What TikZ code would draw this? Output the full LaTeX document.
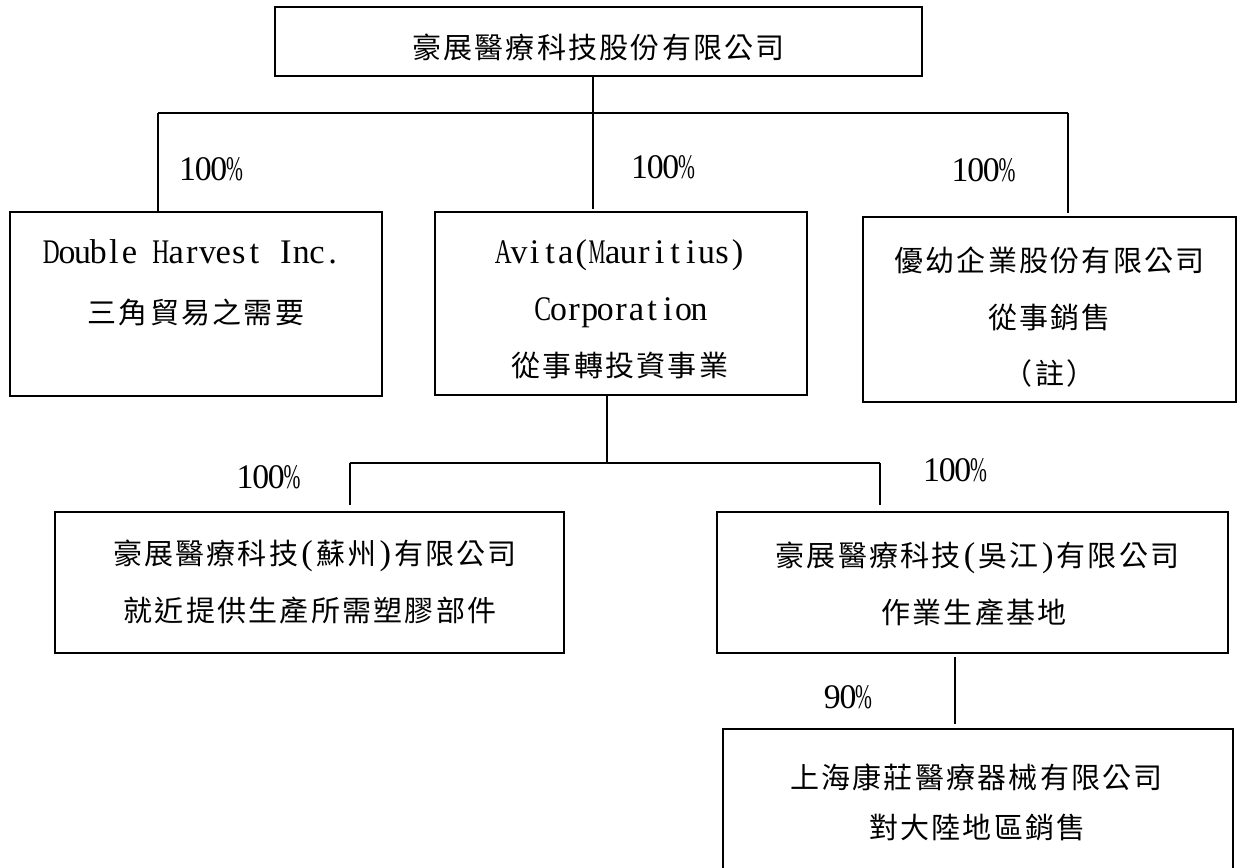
\documentclass[tikz,border=0pt]{standalone}
\usepackage{fontspec}
\newfontfamily\latinf{Liberation Serif}
\newfontfamily\cjkf{Noto Sans CJK TC}
\newdimen\halfw \halfw=15.625pt
\newdimen\fullw \fullw=31.25pt
\ExplSyntaxOn
\box_new:N \l_mono_box
\dim_new:N \l_mono_dim
\dim_new:N \l_mono_max
\NewDocumentCommand\mono{m}{
  \tl_map_inline:nn {#1}{
    \int_compare:nNnTF {`##1} < {256}
      { \dim_set_eq:NN \l_mono_dim \halfw
        \dim_set:Nn \l_mono_max {1.08\halfw}
        \hbox_set:Nn \l_mono_box {\latinf\fontsize{34.5}{40}\selectfont ##1} }
      { \dim_set_eq:NN \l_mono_dim \fullw
        \dim_set:Nn \l_mono_max {0.95\fullw}
        \hbox_set:Nn \l_mono_box {\cjkf\fontsize{29}{35}\selectfont ##1} }
    \dim_compare:nNnT {\box_wd:N \l_mono_box} > {\l_mono_max}
      { \box_resize_to_wd_and_ht:Nnn \l_mono_box {\l_mono_max} {\box_ht:N \l_mono_box} }
    \hbox_to_wd:nn {\l_mono_dim} {\hss \box_use:N \l_mono_box \hss}
  }
}
\ExplSyntaxOff
\begin{document}
\begin{tikzpicture}[x=1pt,y=-1pt,
  frame/.style={draw, line width=1.8pt, inner sep=0pt},
  ln/.style={inner sep=0pt, text height=22pt, text depth=0pt, anchor=center},
  conn/.style={line width=1.8pt}]
\clip (0,0) rectangle (1238,867);
% frames
\node[frame, minimum width=647pt, minimum height=69pt] (top) at (598.5,41.5) {};
\node[frame, minimum width=372pt, minimum height=184pt] (dh) at (196,304) {};
\node[frame, minimum width=372pt, minimum height=183pt] (av) at (621,303.5) {};
\node[frame, minimum width=373pt, minimum height=185pt] (yy) at (1049.5,309.5) {};
\node[frame, minimum width=509pt, minimum height=141pt] (sz) at (309.5,582.5) {};
\node[frame, minimum width=511pt, minimum height=141pt] (wj) at (972.5,582.5) {};
\node[frame, minimum width=510pt, minimum height=171pt] (sh) at (978,814.5) {};
% texts
\node[ln] (topt) at (598.5,47.5) {\mono{豪展醫療科技股份有限公司}};
\node[ln] (dh1) at (192,252) {\mono{Double\ Harvest\ Inc.}};
\node[ln] (dh2) at (196,312) {\mono{三角貿易之需要}};
\node[ln] (av1) at (620.5,252) {\mono{Avita(Mauritius)}};
\node[ln] (av2) at (621,309) {\mono{Corporation}};
\node[ln] (av3) at (620,365) {\mono{從事轉投資事業}};
\node[ln] (yy1) at (1049.5,260) {\mono{優幼企業股份有限公司}};
\node[ln] (yy2) at (1049.5,317) {\mono{從事銷售}};
\node[ln] (yy3) at (1049.5,373) {\mono{（註）}};
\node[ln] (sz1) at (315,553) {\mono{豪展醫療科技(蘇州)有限公司}};
\node[ln] (sz2) at (310,610) {\mono{就近提供生產所需塑膠部件}};
\node[ln] (wj1) at (977.5,555) {\mono{豪展醫療科技(吳江)有限公司}};
\node[ln] (wj2) at (974,612) {\mono{作業生產基地}};
\node[ln] (sh1) at (976.5,777) {\mono{上海康莊醫療器械有限公司}};
\node[ln] (sh2) at (977.5,827) {\mono{對大陸地區銷售}};
% percentages
\node[ln] (p1) at (211,169) {\mono{100\%}};
\node[ln] (p2) at (663,167) {\mono{100\%}};
\node[ln] (p3) at (983.5,170) {\mono{100\%}};
\node[ln] (p4) at (268.5,477) {\mono{100\%}};
\node[ln] (p5) at (955,470) {\mono{100\%}};
\node[ln] (p6) at (848,697) {\mono{90\%}};
% connector points
\coordinate (a1) at (593,113);
\coordinate (a2) at (593,209);
\coordinate (hl) at (158,113);
\coordinate (hr) at (1068,113);
\coordinate (hre) at (1068,213);
\coordinate (b1) at (607,463);
\coordinate (bl) at (350,463);
\coordinate (br) at (880,463);
\coordinate (ble) at (350,505);
\coordinate (bre) at (880,505);
\coordinate (c1) at (955,657);
\coordinate (c2) at (955,724);
% connectors
\draw[conn] (top.south -| a1) -- (a2);
\draw[conn] (hl) -- (hr);
\draw[conn] (hl) -- (hl |- dh.north);
\draw[conn] (hr) -- (hre);
\draw[conn] (av.south -| b1) -- (b1);
\draw[conn] (bl) -- (br);
\draw[conn] (bl) -- (ble);
\draw[conn] (br) -- (bre);
\draw[conn] (c1) -- (c2);
\end{tikzpicture}
\end{document}
